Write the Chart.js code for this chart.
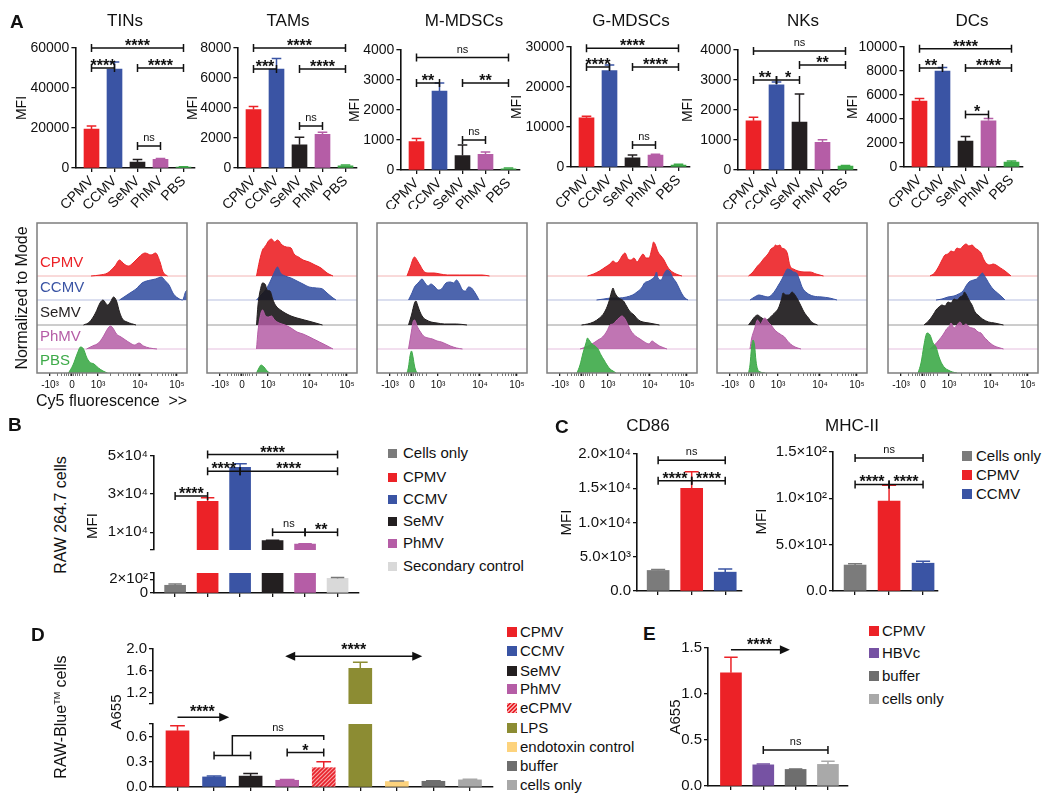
<!DOCTYPE html>
<html>
<head>
<meta charset="utf-8">
<script src="https://cdn.jsdelivr.net/npm/chart.js@4.4.0/dist/chart.umd.min.js"></script>
<style>
body{margin:0;background:#fff;font-family:"Liberation Sans",Arial,sans-serif;color:#111}
#fig{position:relative;width:1050px;height:801px;overflow:hidden;background:#fff}
canvas{position:absolute}
.t{position:absolute;white-space:nowrap;line-height:1}
</style>
</head>
<body>
<div id="fig"></div>
<script>
// ---------- data ----------
// panel A, MFI bars (value, top of error bar)
var virusCats = ['CPMV', 'CCMV', 'SeMV', 'PhMV', 'PBS'];
var virusColors = ['#ec2227', '#3a54a4', '#231f20', '#b55da6', '#3daa48'];
var aTitles = ['TINs', 'TAMs', 'M-MDSCs', 'G-MDSCs', 'NKs', 'DCs'];

var tinsMfi = [19500, 49500, 3000, 4300, 400];
var tinsErr = [21000, 53000, 4200, 4700, 600];
var tamsMfi = [3900, 6600, 1550, 2250, 150];
var tamsErr = [4100, 7300, 2050, 2380, 200];
var mmdscMfi = [950, 2630, 480, 520, 40];
var mmdscErr = [1050, 2900, 830, 600, 70];
var gmdscMfi = [12300, 24100, 2300, 3000, 500];
var gmdscErr = [12700, 25500, 3000, 3200, 700];
var nkMfi = [1640, 2840, 1600, 920, 130];
var nkErr = [1760, 2930, 2530, 1010, 150];
var dcMfi = [5500, 8000, 2150, 3850, 400];
var dcErr = [5700, 8300, 2550, 4050, 500];

var aMax = [60000, 8000, 4000, 30000, 4000, 10000];
var aStep = [20000, 2000, 1000, 10000, 1000, 2000];

// significance brackets [from, to, y, label]
var tinsSig = [[0, 4, 60000, '****'], [0, 1, 50000, '****'], [2, 4, 50000, '****'], [2, 3, 11000, 'ns']];
var tamsSig = [[0, 4, 8000, '****'], [0, 1, 6600, '***'], [2, 4, 6600, '****'], [2, 3, 2800, 'ns']];
var mmdscSig = [[0, 4, 3750, 'ns'], [0, 1, 2900, '**'], [2, 4, 2900, '**'], [2, 3, 1000, 'ns']];
var gmdscSig = [[0, 4, 29700, '****'], [0, 1, 25000, '****'], [2, 4, 25000, '****'], [2, 3, 5500, 'ns']];
var nkSig = [[0, 4, 3970, 'ns'], [2, 4, 3500, '**'], [0, 1, 3000, '**'], [1, 2, 3000, '*']];
var dcSig = [[0, 4, 9850, '****'], [0, 1, 8260, '**'], [2, 4, 8260, '****'], [2, 3, 4380, '*']];

// panel A histograms: rows CPMV..PBS, points [x % of axis, height]
var histTINs = [
  [[36,0],[42,1],[47,3],[52,10],[55,16],[58,12],[61,10],[64,13],[68,19],[72,23],[76,21],[79,23],[82,14],[84,4],[87,0]],
  [[55,0],[58,3],[62,7],[66,11],[70,17],[73,19],[76,20],[79,21],[83,23],[85,20],[88,15],[91,6],[95,1],[97,0],[99,8],[100,10]],
  [[31,0],[35,3],[39,12],[42,22],[44,25],[47,20],[49,23],[51,28],[53,24],[55,13],[57,6],[60,3],[66,0]],
  [[33,0],[37,3],[41,6],[44,12],[47,20],[49,23],[51,20],[53,15],[56,12],[59,9],[62,6],[65,4],[68,6],[71,3],[75,1],[80,0]],
  [[21,0],[24,8],[27,20],[29,26],[31,24],[33,16],[35,11],[38,9],[41,5],[44,2],[47,0]]
];
var histTAMs = [
  [[33,0],[35,15],[37,26],[39,30],[41,35],[43,37],[45,34],[47,36],[50,31],[53,29],[56,28],[58,22],[61,19],[64,16],[68,14],[72,11],[76,8],[80,3],[84,0]],
  [[33,0],[36,5],[39,10],[42,18],[45,28],[47,33],[49,27],[52,24],[56,22],[60,19],[64,16],[68,13],[73,12],[77,11],[80,7],[84,2],[86,0]],
  [[33,0],[34,20],[36,38],[37,42],[39,40],[40,35],[42,34],[44,25],[46,19],[49,15],[52,12],[56,9],[60,7],[65,5],[70,3],[77,0]],
  [[33,0],[34,18],[36,36],[37,39],[39,33],[41,32],[43,33],[45,29],[48,26],[52,24],[56,21],[60,17],[64,15],[67,13],[71,10],[75,7],[79,4],[84,0]],
  [[33,0],[35,6],[36,8],[38,6],[40,2],[42,0]]
];
var histMMDSC = [
  [[20,0],[22,8],[24,17],[25,19],[27,15],[29,10],[31,5],[34,3],[38,3],[42,2],[47,1],[55,1],[62,1],[70,1],[75,0]],
  [[21,0],[23,6],[25,13],[28,18],[30,21],[32,17],[34,14],[36,16],[38,14],[41,10],[43,11],[46,17],[49,18],[51,17],[53,20],[55,16],[57,10],[59,9],[61,13],[63,12],[65,8],[67,3],[68,0]],
  [[21,0],[23,10],[25,22],[26,24],[27,20],[29,12],[31,7],[33,5],[36,3],[40,2],[45,1],[53,1],[60,0]],
  [[21,0],[23,18],[24,27],[25,29],[27,22],[29,17],[31,13],[34,11],[37,10],[40,8],[43,7],[46,5],[49,3],[53,1],[57,0]],
  [[20,0],[21,6],[22,17],[23,22],[24,16],[25,7],[26,2],[27,0]]
];
var histGMDSC = [
  [[27,0],[31,2],[35,5],[39,9],[42,12],[44,15],[46,13],[48,15],[50,20],[52,23],[54,17],[56,16],[58,18],[60,14],[62,18],[64,22],[66,18],[68,18],[70,28],[71,34],[72,32],[74,24],[76,20],[78,16],[80,10],[82,6],[86,2],[90,0]],
  [[33,0],[38,1],[43,2],[48,2],[53,3],[57,5],[60,8],[63,12],[65,17],[68,19],[70,21],[72,24],[73,28],[74,22],[76,20],[78,26],[80,30],[82,28],[84,22],[86,18],[88,12],[90,6],[92,2],[94,0]],
  [[23,0],[27,1],[31,3],[35,7],[38,12],[41,22],[43,33],[44,37],[45,33],[47,28],[49,26],[51,24],[53,19],[55,14],[58,10],[61,5],[64,3],[68,2],[75,0]],
  [[22,0],[26,2],[30,5],[34,9],[37,12],[40,18],[42,24],[44,25],[46,28],[48,31],[50,33],[52,30],[54,24],[56,18],[59,13],[62,10],[65,7],[68,5],[70,8],[72,6],[75,3],[80,0]],
  [[20,0],[22,8],[24,20],[26,30],[27,35],[28,33],[30,29],[32,27],[34,24],[36,18],[38,13],[40,8],[42,4],[44,2],[46,0]]
];
var histNK = [
  [[21,0],[24,4],[27,10],[29,13],[31,17],[34,22],[36,27],[38,29],[39,31],[40,30],[42,31],[43,28],[45,27],[47,22],[48,14],[49,9],[51,7],[54,5],[58,4],[62,4],[66,2],[71,0]],
  [[22,0],[25,3],[28,5],[31,4],[34,3],[37,6],[39,10],[41,15],[43,20],[45,26],[47,31],[49,30],[51,28],[53,27],[55,20],[57,12],[60,7],[64,4],[70,3],[75,2],[80,0]],
  [[21,0],[23,4],[25,8],[27,10],[29,8],[31,6],[33,5],[35,7],[37,10],[39,13],[41,17],[43,26],[44,32],[46,30],[48,30],[50,33],[52,30],[54,25],[56,19],[58,13],[61,7],[63,3],[67,0]],
  [[22,0],[23,10],[25,20],[27,29],[29,25],[31,30],[32,31],[34,27],[36,24],[38,20],[40,17],[42,15],[43,14],[45,12],[47,8],[49,5],[52,2],[56,0]],
  [[21,0],[22,8],[23,25],[24,33],[25,28],[26,12],[27,4],[29,1],[32,0]]
];
var histDC = [
  [[28,0],[31,3],[34,10],[36,16],[38,21],[40,22],[42,25],[44,24],[46,28],[48,27],[50,30],[52,32],[54,30],[56,31],[58,28],[60,26],[62,23],[64,16],[66,12],[68,11],[70,12],[72,11],[75,8],[78,5],[82,0]],
  [[32,0],[36,1],[40,3],[44,4],[47,6],[50,9],[52,14],[54,18],[57,20],[59,21],[61,24],[63,27],[64,25],[66,20],[68,15],[70,11],[73,7],[76,3],[78,0]],
  [[24,0],[27,4],[30,10],[32,15],[34,18],[36,20],[38,19],[40,23],[42,22],[44,26],[46,25],[48,28],[50,30],[51,33],[52,31],[54,25],[56,20],[58,13],[60,10],[63,6],[67,3],[71,2],[77,0]],
  [[28,0],[31,4],[34,9],[37,15],[39,20],[41,23],[42,26],[44,21],[46,24],[48,27],[50,23],[52,25],[54,22],[56,21],[58,20],[60,17],[62,16],[64,12],[66,9],[68,6],[71,3],[77,0]],
  [[20,0],[22,10],[24,28],[25,36],[26,40],[28,38],[30,30],[32,26],[34,16],[36,9],[38,5],[40,3],[43,1],[46,0]]
];
var histTickPos = [8.7, 23.3, 40.7, 68.7, 93.3];
var histTickLabels = ['-10³', '0', '10³', '10⁴', '10⁵'];

// panel B
var bCats = ['Cells only', 'CPMV', 'CCMV', 'SeMV', 'PhMV', 'Secondary control'];
var bColors = ['#7b7b7b', '#ec2227', '#3a54a4', '#231f20', '#b55da6', '#d9d9d9'];
var bMfi = [112, 26200, 43800, 5700, 3900, 212];
var bErr = [130, 28000, 45700, 5900, 4100, 225];
var bSig = [[1, 5, 50500, '****'], [1, 2, 41800, '****'], [2, 5, 41800, '****'], [0, 1, 28900, '****'], [3, 4, 10000, 'ns'], [4, 5, 10000, '**']];

// panel C
var cCats = ['Cells only', 'CPMV', 'CCMV'];
var cColors = ['#7b7b7b', '#ec2227', '#3a54a4'];
var cd86Mfi = [3000, 15000, 2750];
var cd86Err = [3150, 17400, 3200];
var mhcMfi = [28, 97, 30];
var mhcErr = [29.5, 114, 32];
var cd86Sig = [[0, 2, 19100, 'ns'], [0, 1, 16100, '****'], [1, 2, 16100, '****']];
var mhcSig = [[0, 2, 143.5, 'ns'], [0, 1, 115, '****'], [1, 2, 115, '****']];

// panel D
var dCats = ['CPMV', 'CCMV', 'SeMV', 'PhMV', 'eCPMV', 'LPS', 'endotoxin control', 'buffer', 'cells only'];
var dColors = ['#ec2227', '#3a54a4', '#231f20', '#b55da6', 'hatch', '#8c8c33', '#fdd37d', '#6e6e6e', '#a8a8a8'];
var dA655 = [0.67, 0.12, 0.13, 0.08, 0.23, 1.65, 0.065, 0.068, 0.085];
var dErr = [0.73, 0.13, 0.16, 0.09, 0.30, 1.76, 0.072, 0.075, 0.093];
var dArrowLow = [[0, 1.36, 0.83, '****']];
var dArrowHigh = [[3, 6.64, 1.87, '****', true]];
var dSigLow = [[3, 4, 0.41, '*']];
var dNsLink = {pair: [1, 2], pairY: 0.375, to: 4, topY: 0.61, endY: 0.56, label: 'ns'};

// panel E
var eCats = ['CPMV', 'HBVc', 'buffer', 'cells only'];
var eColors = ['#ec2227', '#7652a3', '#6e6e6e', '#a9a9a9'];
var eA655 = [1.23, 0.23, 0.18, 0.235];
var eErr = [1.40, 0.24, 0.185, 0.27];
var eArrow = [[0, 1.76, 1.48, '****']];
var eSig = [[1, 3, 0.39, 'ns']];

// ---------- drawing ----------
var FONT = '"Liberation Sans", Arial, sans-serif';
Chart.defaults.font.family = FONT;
Chart.defaults.color = '#111';
var fig = document.getElementById('fig');

function mkCanvas(x, y, w, h) {
  var c = document.createElement('canvas');
  c.width = w; c.height = h;
  c.style.left = x + 'px'; c.style.top = y + 'px';
  c.style.width = w + 'px'; c.style.height = h + 'px';
  fig.appendChild(c);
  return c;
}
function text(s, x, y, css) {
  var d = document.createElement('div');
  d.className = 't';
  d.innerHTML = s;
  d.style.left = x + 'px'; d.style.top = y + 'px';
  if (css) d.style.cssText += css;
  fig.appendChild(d);
  return d;
}
function vtext(s, cx, cy, size) {
  return text(s, cx, cy, 'font-size:' + size + 'px;transform:translate(-50%,-50%) rotate(-90deg);');
}

function hatchPattern() {
  var c = document.createElement('canvas');
  c.width = 4; c.height = 4;
  var g = c.getContext('2d');
  g.fillStyle = '#f7a3a3'; g.fillRect(0, 0, 4, 4);
  g.strokeStyle = '#e8202a'; g.lineWidth = 1.6;
  g.beginPath();
  g.moveTo(0, 4); g.lineTo(4, 0);
  g.moveTo(-2, 2); g.lineTo(2, -2);
  g.moveTo(2, 6); g.lineTo(6, 2);
  g.stroke();
  return g.createPattern(c, 'repeat');
}
var hatch = hatchPattern();

function star(g, s, x, y) {
  g.textAlign = 'center'; g.textBaseline = 'alphabetic';
  if (s === 'ns') { g.font = '11px ' + FONT; g.fillText(s, x, y - 5); }
  else { g.font = 'bold 16px ' + FONT; g.fillText(s, x, y + 3); }
}
function head(g, x, y, d) {
  g.beginPath(); g.moveTo(x + d * 2, y); g.lineTo(x - d * 8, y - 4.5); g.lineTo(x - d * 8, y + 4.5); g.closePath(); g.fill();
}

// error bars, brackets and arrows on top of the bars
function marks(o) {
  return {
    id: 'marks',
    afterDatasetsDraw: function (ch) {
      var g = ch.ctx, xs = ch.scales.x, ys = ch.scales.y;
      g.save();
      g.lineWidth = 1.5;
      (o.err || []).forEach(function (e, i) {
        var v = o.vals[i];
        if (v > ys.max || v < ys.min) return;
        var x = xs.getPixelForValue(i), y0 = ys.getPixelForValue(v), y1 = ys.getPixelForValue(e), hw = o.barW * 0.32;
        var col = o.colors[i];
        g.strokeStyle = col === 'hatch' ? '#e8202a' : col;
        if (col === '#d9d9d9' || col === '#fdd37d') g.strokeStyle = '#777';
        g.beginPath(); g.moveTo(x, y0); g.lineTo(x, y1); g.moveTo(x - hw, y1); g.lineTo(x + hw, y1); g.stroke();
      });
      g.strokeStyle = '#111'; g.fillStyle = '#111';
      (o.brackets || []).forEach(function (b) {
        var x1 = xs.getPixelForValue(b[0]), x2 = xs.getPixelForValue(b[1]), y = ys.getPixelForValue(b[2]);
        g.beginPath(); g.moveTo(x1, y); g.lineTo(x2, y);
        g.moveTo(x1, y - 4); g.lineTo(x1, y + 4); g.moveTo(x2, y - 4); g.lineTo(x2, y + 4);
        g.stroke();
        star(g, b[3], (x1 + x2) / 2, y);
      });
      (o.arrows || []).forEach(function (r) {
        var x1 = xs.getPixelForValue(r[0]), x2 = xs.getPixelForValue(r[1]), y = ys.getPixelForValue(r[2]);
        g.beginPath(); g.moveTo(r[4] ? x1 + 4 : x1, y); g.lineTo(x2 - 4, y); g.stroke();
        head(g, x2, y, 1);
        if (r[4]) head(g, x1, y, -1);
        star(g, r[3], (x1 + x2) / 2, y - (r[4] ? 4 : 3));
      });
      if (o.extra) o.extra(g, xs, ys);
      g.restore();
    }
  };
}

function barChart(o) {
  var c = mkCanvas(o.cv[0], o.cv[1], o.cv[2], o.cv[3]);
  var yw = o.plot[0] - o.cv[0];
  var xh = o.cv[1] + o.cv[3] - o.plot[3];
  var ts = o.tickSize || 14;
  return new Chart(c, {
    type: 'bar',
    data: {
      datasets: [{
        data: o.vals.map(function (v, i) { return {x: i, y: v}; }),
        backgroundColor: o.colors.map(function (col) { return col === 'hatch' ? hatch : col; }),
        borderWidth: 0, barThickness: o.barW, clip: 0
      }]
    },
    options: {
      responsive: false, animation: false, events: [],
      layout: {padding: {left: 0, top: o.plot[1] - o.cv[1], right: o.cv[0] + o.cv[2] - o.plot[2], bottom: 0}},
      plugins: {legend: {display: false}, tooltip: {enabled: false}},
      scales: {
        x: {
          type: 'linear', min: o.xMin, max: o.xMax, offset: false, display: o.showX !== false,
          afterBuildTicks: function (s) { s.ticks = o.cats.map(function (cat, i) { return {value: i}; }); },
          afterFit: function (s) { s.height = xh; },
          ticks: {
            autoSkip: false, minRotation: o.rot || 0, maxRotation: o.rot || 0, padding: 1, font: {size: 14},
            callback: function (v) { return o.xLabels ? o.cats[v] : ''; }
          },
          grid: {offset: false, drawOnChartArea: false, tickLength: 4, color: '#111', lineWidth: 1.3},
          border: {color: '#111', width: 1.6}
        },
        y: {
          min: o.yMin, max: o.yMax,
          afterBuildTicks: function (s) { s.ticks = o.yTicks.map(function (v) { return {value: v}; }); },
          afterFit: function (s) { s.width = yw; },
          ticks: {autoSkip: false, padding: 2, font: {size: ts}, callback: function (v, i) { return o.yLabels[i]; }},
          grid: {drawOnChartArea: false, tickLength: 4, color: '#111', lineWidth: 1.3},
          border: {color: '#111', width: 1.6},
          title: {display: !!o.yTitle, text: o.yTitle, padding: 0, font: {size: ts}}
        }
      }
    },
    plugins: [marks(o)]
  });
}

// ----- panel A bar charts -----
var aAxisX = [75, 237, 400, 570, 737, 903];
var aTop = [48, 48, 50, 47, 50, 47];
var aBot = [168, 168, 170, 167, 170, 167];
var aMfiX = [22, 193, 355, 517, 688, 853];
var aTitleX = [125, 288, 464, 631, 803, 972];
var aVals = [tinsMfi, tamsMfi, mmdscMfi, gmdscMfi, nkMfi, dcMfi];
var aErrs = [tinsErr, tamsErr, mmdscErr, gmdscErr, nkErr, dcErr];
var aSigs = [tinsSig, tamsSig, mmdscSig, gmdscSig, nkSig, dcSig];

aTitles.forEach(function (t, k) {
  var left = aMfiX[k] - 8.4, right = aAxisX[k] + 120;
  var ticks = [];
  for (var v = 0; v <= aMax[k]; v += aStep[k]) ticks.push(v);
  barChart({
    cv: [left, 28, right + 6 - left, 181],
    plot: [aAxisX[k], aTop[k], right, aBot[k]],
    cats: virusCats, vals: aVals[k], err: aErrs[k], colors: virusColors,
    xMin: -0.7, xMax: 4.5, barW: 15, rot: 45, xLabels: true,
    yMin: 0, yMax: aMax[k], yTicks: ticks, yLabels: ticks.map(String),
    yTitle: 'MFI', brackets: aSigs[k]
  });
  text(t, aTitleX[k], 12, 'font-size:17px;transform:translateX(-50%);');
});

// ----- panel A histograms -----
var hBoxX = [37, 207, 377, 547, 717, 888];
var hTop = 223, hW = 150, hH = 150;
var hBase = [97, 73, 48, 24, 0];
var hFill = ['rgba(236,34,39,0.9)', 'rgba(58,84,164,0.9)', 'rgba(25,22,24,0.9)', 'rgba(181,93,166,0.85)', 'rgba(61,170,72,0.9)'];
var hBaseCol = ['#f3b4b4', '#b7bfe0', '#9a9a9a', '#e6bfdf', null];
var hData = [histTINs, histTAMs, histMMDSC, histGMDSC, histNK, histDC];

var hTicks = histTickPos.slice();
[2, 3, 4, 5, 6, 7, 8, 9].forEach(function (k) {
  hTicks.push(40.7 + 28 * Math.log10(k));
  hTicks.push(68.7 + 24.6 * Math.log10(k));
});
[1.2, 2.4, 3.6, 5, 7, 9.5].forEach(function (d) { hTicks.push(23.3 - d); hTicks.push(23.3 + d); });
hTicks.sort(function (a, b) { return a - b; });

var boxPlugin = {
  id: 'box',
  afterDatasetsDraw: function (ch) {
    var a = ch.chartArea, g = ch.ctx;
    g.save(); g.strokeStyle = '#7d7d7d'; g.lineWidth = 1.5;
    g.strokeRect(a.left, a.top, a.right - a.left, a.bottom - a.top);
    g.restore();
  }
};

hData.forEach(function (rows, p) {
  var c = mkCanvas(hBoxX[p] - 3, hTop - 3, hW + 6, hH + 3 + 24);
  var ds = [];
  rows.forEach(function (pts, k) {
    if (hBaseCol[k]) ds.push({
      data: [{x: 0, y: hBase[k]}, {x: 100, y: hBase[k]}], borderColor: hBaseCol[k], borderWidth: 1,
      pointRadius: 0, fill: false, order: 20
    });
    ds.push({
      data: pts.map(function (q) { return {x: q[0], y: hBase[k] + q[1]}; }),
      borderColor: virusColors[k], backgroundColor: hFill[k], borderWidth: 1, pointRadius: 0,
      cubicInterpolationMode: 'monotone', fill: {value: hBase[k]}, order: 5 - k
    });
  });
  new Chart(c, {
    type: 'line',
    data: {datasets: ds},
    options: {
      responsive: false, animation: false, events: [],
      layout: {padding: {left: 3, right: 3, top: 3, bottom: 0}},
      plugins: {legend: {display: false}, tooltip: {enabled: false}},
      scales: {
        x: {
          type: 'linear', min: 0, max: 100,
          afterBuildTicks: function (s) { s.ticks = hTicks.map(function (v) { return {value: v}; }); },
          afterFit: function (s) { s.height = 24; },
          ticks: {
            autoSkip: false, maxRotation: 0, minRotation: 0, padding: 3, font: {size: 10},
            callback: function (v) { var i = histTickPos.indexOf(v); return i >= 0 ? histTickLabels[i] : ''; }
          },
          grid: {
            drawOnChartArea: false, tickLength: 3,
            color: function (cx) { return cx.tick && histTickPos.indexOf(cx.tick.value) >= 0 ? '#222' : '#555'; },
            lineWidth: function (cx) { return cx.tick && histTickPos.indexOf(cx.tick.value) >= 0 ? 1.3 : 0.8; }
          },
          border: {display: false}
        },
        y: {display: false, min: 0, max: 150}
      }
    },
    plugins: [boxPlugin]
  });
});

var rowLabelY = [254, 279, 304, 328, 352];
virusCats.forEach(function (n, k) {
  text(n, 40, rowLabelY[k], 'font-size:15px;color:' + virusColors[k] + ';');
});
vtext('Normalized to Mode', 22, 298, 16);
text('Cy5 fluorescence&nbsp;&nbsp;&gt;&gt;', 36, 393, 'font-size:16px;');

// ----- panel B (broken axis: upper + lower segment) -----
barChart({
  cv: [82, 430, 283, 131], plot: [154, 455.5, 359, 558],
  cats: bCats, vals: bMfi, err: bErr, colors: bColors,
  xMin: -0.65, xMax: 5.66, barW: 21, showX: false, tickSize: 15,
  yMin: 800, yMax: 50000, yTicks: [800, 10000, 30000, 50000], yLabels: ['', '1×10⁴', '3×10⁴', '5×10⁴'],
  brackets: bSig
});
barChart({
  cv: [82, 562, 283, 42], plot: [154, 571, 359, 594],
  cats: bCats, vals: bMfi, err: bErr, colors: bColors,
  xMin: -0.65, xMax: 5.66, barW: 21, tickSize: 15,
  yMin: 0, yMax: 290, yTicks: [0, 200, 290], yLabels: ['0', '2×10²', '']
});
vtext('RAW 264.7 cells', 61, 515, 16);
vtext('MFI', 91, 526, 15);

// ----- panel C -----
barChart({
  cv: [558, 432, 190, 170], plot: [637, 454, 742, 593],
  cats: cCats, vals: cd86Mfi, err: cd86Err, colors: cColors,
  xMin: -0.63, xMax: 2.5, barW: 22, tickSize: 15,
  yMin: 0, yMax: 20000, yTicks: [0, 5000, 10000, 15000, 20000],
  yLabels: ['0.0', '5.0×10³', '1.0×10⁴', '1.5×10⁴', '2.0×10⁴'],
  yTitle: 'MFI', brackets: cd86Sig
});
barChart({
  cv: [753, 432, 190, 170], plot: [833, 452, 938, 593],
  cats: cCats, vals: mhcMfi, err: mhcErr, colors: cColors,
  xMin: -0.65, xMax: 2.44, barW: 22, tickSize: 15,
  yMin: 0, yMax: 150, yTicks: [0, 50, 100, 150],
  yLabels: ['0.0', '5.0×10¹', '1.0×10²', '1.5×10²'],
  yTitle: 'MFI', brackets: mhcSig
});
text('CD86', 648, 417, 'font-size:17px;transform:translateX(-50%);');
text('MHC-II', 852, 417, 'font-size:17px;transform:translateX(-50%);');

// ----- panel D (broken axis) -----
barChart({
  cv: [107, 628, 392, 87], plot: [153, 649, 493, 712],
  cats: dCats, vals: dA655, err: dErr, colors: dColors,
  xMin: -0.67, xMax: 8.63, barW: 23, showX: false, tickSize: 15,
  yMin: 1.0, yMax: 2.0, yTicks: [1.0, 1.2, 1.6, 2.0], yLabels: ['', '1.2', '1.6', '2.0'],
  arrows: dArrowHigh
});
barChart({
  cv: [107, 700, 392, 98], plot: [153, 724, 493, 788],
  cats: dCats, vals: dA655, err: dErr, colors: dColors,
  xMin: -0.67, xMax: 8.63, barW: 23, tickSize: 15,
  yMin: 0, yMax: 0.75, yTicks: [0, 0.3, 0.6, 0.75], yLabels: ['0.0', '0.3', '0.6', ''],
  arrows: dArrowLow, brackets: dSigLow,
  extra: function (g, xs, ys) {
    var a = xs.getPixelForValue(dNsLink.pair[0]), b = xs.getPixelForValue(dNsLink.pair[1]);
    var m = (a + b) / 2, e = xs.getPixelForValue(dNsLink.to);
    var y0 = ys.getPixelForValue(dNsLink.pairY), y1 = ys.getPixelForValue(dNsLink.topY), y2 = ys.getPixelForValue(dNsLink.endY);
    g.beginPath();
    g.moveTo(a, y0); g.lineTo(b, y0);
    g.moveTo(a, y0 - 4); g.lineTo(a, y0 + 4); g.moveTo(b, y0 - 4); g.lineTo(b, y0 + 4);
    g.moveTo(m, y0); g.lineTo(m, y1); g.lineTo(e, y1); g.lineTo(e, y2);
    g.stroke();
    star(g, dNsLink.label, (m + e) / 2, y1);
  }
});
vtext('RAW-Blue<sup style="font-size:9px">TM</sup> cells', 61, 717, 16);
vtext('A655', 115, 712, 15);

// ----- panel E -----
barChart({
  cv: [667, 622, 187, 175], plot: [708, 648, 848, 787],
  cats: eCats, vals: eA655, err: eErr, colors: eColors,
  xMin: -0.71, xMax: 3.62, barW: 21, tickSize: 15,
  yMin: 0, yMax: 1.5, yTicks: [0, 0.5, 1.0, 1.5], yLabels: ['0.0', '0.5', '1.0', '1.5'],
  yTitle: 'A655', arrows: eArrow, brackets: eSig
});

// ----- legends -----
function legend(sx, tx, ys, names, colors, sq) {
  names.forEach(function (n, i) {
    var bg = colors[i] === 'hatch'
      ? 'repeating-linear-gradient(-45deg,#e8202a 0 1.4px,#f7a3a3 1.4px 2.8px)' : colors[i];
    var d = document.createElement('div');
    d.style.cssText = 'position:absolute;left:' + sx + 'px;top:' + (ys[i] - sq / 2) + 'px;width:' + sq + 'px;height:' + sq + 'px;background:' + bg;
    fig.appendChild(d);
    text(n, tx, ys[i] - 8, 'font-size:15px;');
  });
}
legend(388, 403, [453, 477, 499, 521, 543, 566], bCats, bColors, 9);
legend(962, 976, [456, 475, 494], cCats, cColors, 10);
legend(507, 520, [632, 651, 671, 689, 708, 728, 747, 766, 785], dCats, dColors, 10);
legend(869, 882, [631, 653, 676, 699], eCats, eColors, 10);

// ----- panel letters -----
[['A', 10, 12], ['B', 8, 415], ['C', 555, 417], ['D', 31, 625], ['E', 643, 624]].forEach(function (p) {
  text(p[0], p[1], p[2], 'font-size:19px;font-weight:bold;');
});
</script>
</body>
</html>
